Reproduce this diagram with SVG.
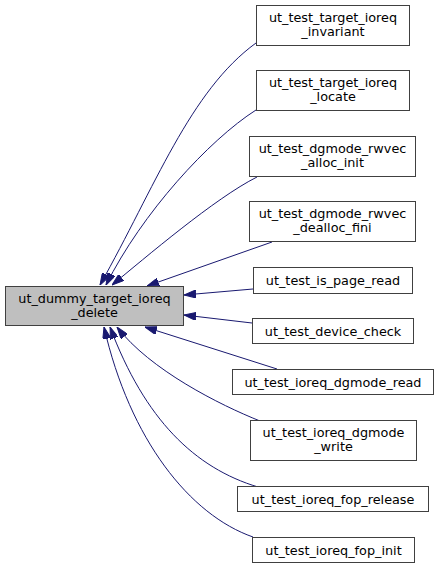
<svg xmlns="http://www.w3.org/2000/svg" width="440" height="569" viewBox="0 0 440 569">
<style>
.n rect{fill:#ffffff;stroke:#404040;stroke-width:1}
.m rect{fill:#bfbfbf;stroke:#404040;stroke-width:1}
text{font-family:"DejaVu Sans","Liberation Sans",sans-serif;font-size:12.8px;fill:#000000;text-anchor:middle}
.e path{fill:none;stroke:#191970;stroke-width:1;marker-end:url(#ah)}
</style>
<defs>
<marker id="ah" viewBox="0 0 12 8" refX="12" refY="4" markerWidth="12" markerHeight="8" markerUnits="userSpaceOnUse" orient="auto">
<path d="M0,0 L12,4 L0,8 z" fill="#191970" stroke="#191970" stroke-width="1"/>
</marker>
</defs>
<rect width="440" height="569" fill="#ffffff"/>
<g id="edges" class="e">
<path d="M256,43 C190,91 155,187 100,285"/>
<path d="M256,110 C209,140 142,213 106,285"/>
<path d="M257,177 C215,198 145,258 112,285"/>
<path d="M272,242 L147,286"/>
<path d="M253,289 L184,295"/>
<path d="M252,323 L184,315"/>
<path d="M277,369 L145,327"/>
<path d="M260,421 C220,405 150,370 117,327"/>
<path d="M258,487 C195,468 145,420 110,327"/>
<path d="M253,537 C190,515 130,440 104,327"/>
</g>
<g id="main" class="m">
<rect x="5.5" y="286.5" width="178" height="39"/>
<text x="94.5" y="302.5">ut_dummy_target_ioreq</text>
<text x="94.5" y="316.5">_delete</text>
</g>
<g id="n1" class="n">
<rect x="256.5" y="5.5" width="153" height="40"/>
<text x="333" y="22">ut_test_target_ioreq</text>
<text x="333" y="36">_invariant</text>
</g>
<g id="n2" class="n">
<rect x="256.5" y="70.5" width="153" height="40"/>
<text x="333" y="87">ut_test_target_ioreq</text>
<text x="333" y="101">_locate</text>
</g>
<g id="n3" class="n">
<rect x="249.5" y="136.5" width="166" height="40"/>
<text x="332.5" y="153">ut_test_dgmode_rwvec</text>
<text x="332.5" y="167">_alloc_init</text>
</g>
<g id="n4" class="n">
<rect x="249.5" y="201.5" width="166" height="40"/>
<text x="332.5" y="218">ut_test_dgmode_rwvec</text>
<text x="332.5" y="232">_dealloc_fini</text>
</g>
<g id="n5" class="n">
<rect x="253.5" y="267.5" width="159" height="26"/>
<text x="333" y="285">ut_test_is_page_read</text>
</g>
<g id="n6" class="n">
<rect x="252.5" y="318.5" width="161" height="25"/>
<text x="333" y="335.5">ut_test_device_check</text>
</g>
<g id="n7" class="n">
<rect x="232.5" y="369.5" width="201" height="25"/>
<text x="333" y="386.5">ut_test_ioreq_dgmode_read</text>
</g>
<g id="n8" class="n">
<rect x="250.5" y="420.5" width="166" height="40"/>
<text x="333.5" y="437">ut_test_ioreq_dgmode</text>
<text x="333.5" y="451">_write</text>
</g>
<g id="n9" class="n">
<rect x="237.5" y="486.5" width="191" height="25"/>
<text x="333" y="503.5">ut_test_ioreq_fop_release</text>
</g>
<g id="n10" class="n">
<rect x="252.5" y="537.5" width="162" height="25"/>
<text x="333.5" y="554.5">ut_test_ioreq_fop_init</text>
</g>
</svg>
